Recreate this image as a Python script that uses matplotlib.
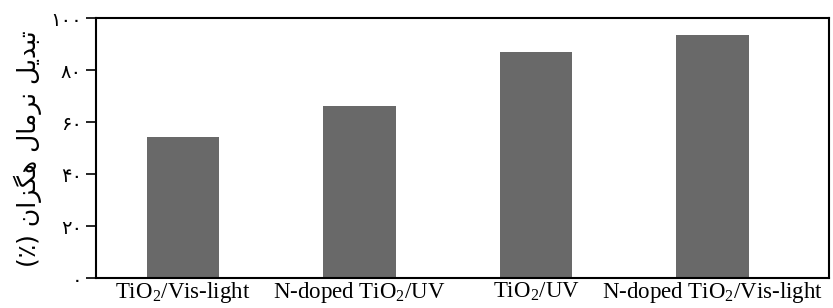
import matplotlib.pyplot as plt

plt.rcParams['font.family'] = ['Liberation Serif', 'DejaVu Sans']
plt.rcParams['mathtext.fontset'] = 'custom'
plt.rcParams['mathtext.rm'] = 'Liberation Serif'

# data
categories = [r"TiO$_\mathregular{2}$/Vis-light",
              r"N-doped TiO$_\mathregular{2}$/UV",
              r"TiO$_\mathregular{2}$/UV",
              r"N-doped TiO$_\mathregular{2}$/Vis-light"]
conversion = [54.2, 66.3, 87.2, 93.8]
yticks = [0, 20, 40, 60, 80, 100]
ytick_labels = ["\u06f0", "\u06f2\u06f0", "\u06f4\u06f0", "\u06f6\u06f0", "\u06f8\u06f0", "\u06f1\u06f0\u06f0"]

# "تبدیل نرمال هگزان (٪)" in shaped presentation forms, visual (left-to-right) order
words = [
    "(\u066a)",
    "\uFEE5\uFE8D\uFEB0\uFB95\uFEEB",   # هگزان
    "\uFEDD\uFE8E\uFEE3\uFEAE\uFEE7",   # نرمال
    "\uFEDE\uFBFE\uFEAA\uFE92\uFE97",   # تبدیل
]
ylabel = " ".join(words)

fig = plt.figure(figsize=(8.33, 3.08), dpi=100)
ax = fig.add_axes([0.1152, 0.0964, 0.8800, 0.8436])

x = range(len(categories))
ax.bar(x, conversion, width=0.41, color='#696969')

ax.set_xlim(-0.494, 3.66)
ax.set_ylim(0, 100)
ax.set_yticks(yticks)
ax.set_yticklabels(ytick_labels, family=['DejaVu Sans'], fontsize=14)
ax.set_xticks(list(x))
ax.set_xticklabels(categories, fontsize=16.5)
ax.tick_params(axis='x', length=0, pad=1)
ax.tick_params(axis='y', length=7, width=1.2, direction='out', pad=3)
for s in ax.spines.values():
    s.set_linewidth(1.5)
    s.set_color('black')

ax.set_ylabel(ylabel, family=['DejaVu Sans'], fontsize=18, labelpad=6)

plt.savefig("out.png", dpi=100)
